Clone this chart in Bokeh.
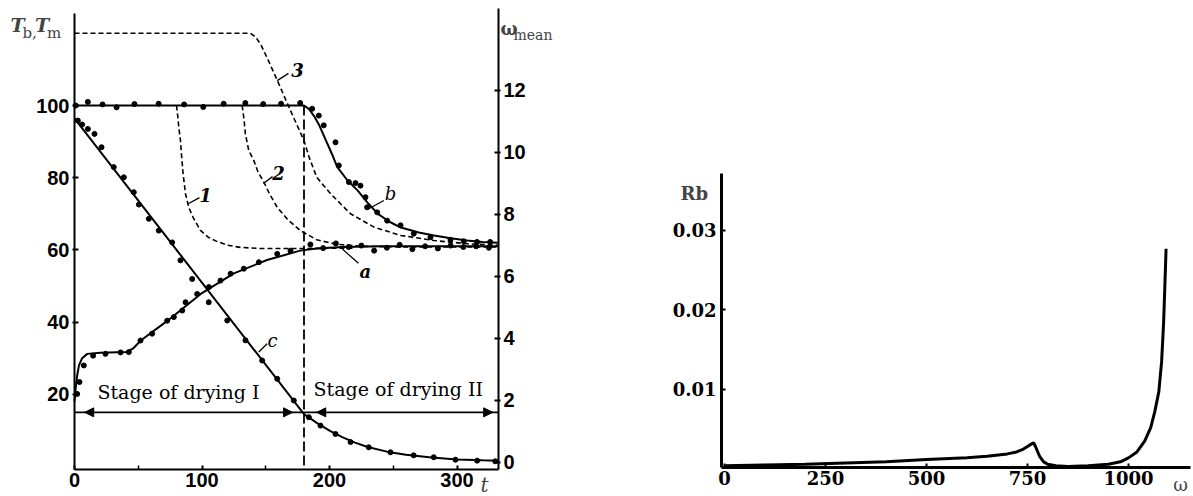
from bokeh.plotting import figure
from bokeh.layouts import row
from bokeh.models import Range1d, LinearAxis, FixedTicker, Label, Arrow, NormalHead, PrintfTickFormatter
from bokeh.embed import file_html
from bokeh.resources import INLINE

# ---------------- data: left panel ----------------
# curve b (T_b, solid)
b_t = [0, 180, 184, 188, 192, 197, 202, 206, 214, 222, 230, 238, 247, 256, 270, 282, 295, 308, 320, 332]
b_T = [100, 100, 99, 97, 94.5, 90.5, 86.5, 83, 79.3, 76.5, 73, 70, 67.8, 66.2, 64.8, 64, 63.2, 62.6, 62.2, 62]
b_dot_t = [1, 10.5, 22, 33, 47, 66, 86, 101, 117, 134, 148, 162, 177,
           186.4, 191.6, 195.5, 204.7, 207.3, 215.2, 220.4, 224.3, 228.2, 229.5, 237.4, 245.2,
           255.7, 266.1, 279.2, 294.9, 305.3, 315.7, 326]
b_dot_T = [100, 101, 100.3, 99.5, 100.4, 100.5, 100.3, 99.6, 100.5, 100.7, 100.4, 100.5, 100.7,
           99.1, 97.2, 94.5, 89.8, 83.4, 78.8, 78.5, 77.8, 74.6, 71.8, 70.4, 68.1,
           66.8, 64.5, 63.5, 62.8, 62.4, 62.2, 62.2]

# curve a (T_m, solid)
a_t = [0, 1, 2, 3.5, 6, 10, 20, 41, 46, 52, 73, 99, 125, 151, 177, 190, 210, 240, 280, 332]
a_T = [18, 22, 25, 28, 30, 31.2, 31.5, 31.7, 32.7, 34.9, 40.4, 47.8, 53.5, 57.2, 59.8, 60.4, 60.8, 61, 61, 61]
a_dot_t = [2.1, 3.9, 7.3, 14.6, 24.3, 36.1, 42.6, 51.8, 60.9, 72.7, 77.9, 84.5, 87.1, 96.2, 105.4,
           114.5, 122.4, 132.8, 144.6, 159, 169.4,
           185, 195, 205, 215, 225, 235, 245, 255, 265, 275, 285, 295, 305, 315, 325]
a_dot_T = [20.1, 23.4, 28, 30.7, 31.2, 31.6, 31.7, 34.9, 36.8, 40.4, 41.4, 43.2, 45.5, 47.8, 49.7,
           51.5, 53.4, 54.8, 56.6, 58.9, 59.8,
           61.5, 60.5, 61.8, 60.8, 61.2, 59.8, 60.6, 61.4, 60.2, 61, 60.4, 61.2, 60.8, 61, 60.6]

# curve c (omega_mean, solid, right axis)
c_t = [0, 180, 190, 200, 210, 220, 230, 245, 260, 280, 300, 320, 332]
c_w = [11.1, 1.56, 1.28, 1.03, 0.82, 0.64, 0.5, 0.35, 0.25, 0.16, 0.1, 0.07, 0.06]
c_dot_t = [2.6, 6, 10.5, 15.7, 21.2, 30.8, 38.7, 46.5, 50.5, 58.3, 66.1, 76.6, 83.1, 92.3, 105.3,
           119.8, 134.1, 147.2, 159, 172, 183.8, 192.9, 204.7, 216.5, 230.8, 247.8, 266, 281.8,
           298.8, 315.8, 330]
c_dot_w = [11.03, 10.9, 10.76, 10.6, 10.17, 9.53, 9.2, 8.72, 8.32, 7.86, 7.48, 7.1, 6.52, 5.92, 5.17,
           4.58, 3.94, 3.29, 2.7, 2.0, 1.46, 1.19, 0.92, 0.66, 0.49, 0.33, 0.23, 0.17,
           0.09, 0.06, 0.04]

# dashed curves 1, 2, 3
d1_t = [80, 81, 81.8, 83.1, 84, 85.2, 87.1, 89.6, 93, 98.8, 105, 112, 120, 130, 145, 180, 220]
d1_T = [100, 97, 94, 90.3, 86, 81, 75.5, 71.8, 69, 65.4, 63.5, 62.3, 61.3, 60.7, 60.4, 60.4, 60.5]
d2_t = [131.5, 133, 134, 136.7, 140.6, 144, 148.5, 153, 159, 167, 177, 190, 205, 225, 260, 300, 332]
d2_T = [100, 96, 92.2, 87.5, 84.8, 81.5, 78.8, 75.5, 71.8, 68.5, 65.4, 62.8, 61.6, 61, 60.8, 60.8, 60.8]
d3_t = [0, 138, 142, 146, 152, 159, 169.4, 180, 184, 190, 201, 216.5, 235, 256, 282, 308, 332]
d3_T = [120, 120, 119, 117, 112.5, 107, 98.6, 90.3, 85.7, 80.1, 75.5, 70, 66.3, 64, 62.6, 61.7, 61.3]

stage_t = [0, 180, 332.5]
stage_T = 15
x_ticks_left = [0, 100, 200, 300]
y_ticks_left = [20, 40, 60, 80, 100]
y_ticks_right = [0, 2, 4, 6, 8, 10, 12]

# ---------------- data: right panel ----------------
rb_w = [0, 100, 200, 300, 400, 500, 600, 650, 700, 720, 740, 755, 765, 770, 780, 790, 800, 820,
        850, 900, 950, 980, 1000, 1020, 1040, 1055, 1065, 1075, 1082, 1087, 1090, 1093]
rb_v = [0.0004, 0.0005, 0.0006, 0.00075, 0.0009, 0.0012, 0.0014, 0.0016, 0.0019, 0.0021, 0.0025, 0.003,
        0.0033, 0.0028, 0.0016, 0.0009, 0.0006, 0.0004, 0.0003, 0.0004, 0.0006, 0.0009, 0.0014, 0.0021,
        0.0035, 0.0052, 0.0072, 0.0097, 0.0135, 0.0185, 0.023, 0.0277]
x_ticks_right = [0, 250, 500, 750, 1000]
y_ticks_rb = [0.01, 0.02, 0.03]

SERIF = "DejaVu Serif"
SANS = "Liberation Sans"


def bare_figure(width, height, xr, yr):
    f = figure(width=width, height=height, x_range=Range1d(*xr), y_range=Range1d(*yr),
               output_backend="svg", toolbar_location=None, title=None,
               min_border_left=0, min_border_right=0, min_border_top=0, min_border_bottom=0)
    f.grid.visible = False
    f.outline_line_color = None
    f.background_fill_color = "white"
    f.border_fill_color = "white"
    return f


def style_axis(ax, font, size, lw):
    ax.axis_line_width = lw
    ax.axis_line_color = "black"
    ax.major_tick_line_width = 2
    ax.major_tick_in = 4
    ax.major_tick_out = 2
    ax.minor_tick_in = 4
    ax.minor_tick_out = 0
    ax.minor_tick_line_width = 1.5
    ax.major_label_text_font = font
    ax.major_label_text_font_style = "bold"
    ax.major_label_text_font_size = size
    ax.major_label_text_color = "black"
    ax.major_label_standoff = 3


# ---------------- left figure ----------------
# frame covers whole canvas; axes are placed with fixed_location
p = bare_figure(568, 496, (-58.04, 387.45), (-8.31, 129.09))
p.extra_y_ranges = {"w": Range1d(-1.097, 14.903)}
T_axis = -0.83      # level of the t axis line
t_right = 332.5     # t of the right axis line

p.xaxis.visible = False
p.yaxis.visible = False
ax_b = LinearAxis(fixed_location=T_axis, bounds=(0, t_right),
                  ticker=FixedTicker(ticks=x_ticks_left, minor_ticks=[50, 150, 250]))
ax_l = LinearAxis(fixed_location=0, bounds=(T_axis, 125.5),
                  ticker=FixedTicker(ticks=y_ticks_left, minor_ticks=[]))
ax_r = LinearAxis(y_range_name="w", fixed_location=t_right, bounds=(-0.23, 14.65),
                  ticker=FixedTicker(ticks=y_ticks_right, minor_ticks=[]))
p.add_layout(ax_b, "below")
p.add_layout(ax_l, "left")
p.add_layout(ax_r, "right")
for ax in [ax_b, ax_l, ax_r]:
    style_axis(ax, SANS, "20px", 2)
ax_b.major_tick_out = 0
ax_b.major_label_standoff = 4

# dashed curves
dash_kw = dict(line_color="black", line_width=1.6, line_dash="5 3")
p.line(d1_t, d1_T, **dash_kw)
p.line(d2_t, d2_T, **dash_kw)
p.line(d3_t, d3_T, **dash_kw)

# vertical dashed stage boundary
p.segment(x0=[stage_t[1]], y0=[100], x1=[stage_t[1]], y1=[T_axis], line_color="black",
          line_width=1.8, line_dash="10 4")

# solid curves
p.line(b_t, b_T, line_color="black", line_width=2)
p.line(a_t, a_T, line_color="black", line_width=2)
p.line(c_t, c_w, line_color="black", line_width=2, y_range_name="w")
p.scatter(b_dot_t, b_dot_T, size=5, color="black")
p.scatter(a_dot_t, a_dot_T, size=5, color="black")
p.scatter(c_dot_t, c_dot_w, size=5, color="black", y_range_name="w")

# stage arrows line
p.line([stage_t[0], stage_t[2]], [stage_T, stage_T], line_color="black", line_width=1.6)
for xs, xe in [(14, 8), (165, 171), (196, 190), (322, 328)]:
    p.add_layout(Arrow(end=NormalHead(size=9, fill_color="black", line_color="black", line_width=1),
                       x_start=xs, y_start=stage_T, x_end=xe, y_end=stage_T, line_alpha=0))

p.add_layout(Label(x=18, y=17.7, text="Stage of drying I", text_font=SERIF, text_font_size="19px",
                   text_color="black"))
p.add_layout(Label(x=187.5, y=18.3, text="Stage of drying II", text_font=SERIF, text_font_size="19px",
                   text_color="black"))

# curve labels with leaders
curve_labels = [("1", 102.7, 75.1, "bold italic", (89.2, 72.8, 98, 74.5)),
                ("2", 160, 81.2, "bold italic", (148.2, 78.4, 155.3, 80.3)),
                ("3", 174.9, 109.7, "bold italic", (159, 106.9, 167.8, 108.9)),
                ("a", 228.2, 54.0, "bold italic", (208.6, 60.7, 222.7, 56.3)),
                ("b", 247.8, 75.6, "italic", (230.8, 71.4, 242.6, 73.7)),
                ("c", 155.3, 34.9, "italic", (144.5, 31.7, 151.1, 34))]
for txt, lx, ly, style, (x0, y0, x1, y1) in curve_labels:
    p.add_layout(Label(x=lx, y=ly, text=txt, text_font=SERIF, text_font_style=style,
                       text_font_size="18px", text_align="center", text_baseline="middle",
                       text_color="black"))
    p.segment(x0=[x0], y0=[y0], x1=[x1], y1=[y1], line_color="black", line_width=1.3)

# axis titles
p.add_layout(Label(x=-50.2, y=122.2, text="T", text_font=SERIF, text_font_style="bold italic",
                   text_font_size="19px", text_baseline="alphabetic"))
p.add_layout(Label(x=-40.8, y=120.0, text="b,", text_font=SERIF, text_font_size="15px",
                   text_baseline="alphabetic"))
p.add_layout(Label(x=-31.0, y=122.2, text="T", text_font=SERIF, text_font_style="bold italic",
                   text_font_size="19px", text_baseline="alphabetic"))
p.add_layout(Label(x=-21.5, y=120.0, text="m", text_font=SERIF, text_font_size="15px",
                   text_baseline="alphabetic"))
p.add_layout(Label(x=334.1, y=121.3, text="ω", text_font=SERIF, text_font_style="bold",
                   text_font_size="18px", text_baseline="alphabetic"))
p.add_layout(Label(x=344.3, y=119.6, text="mean", text_font=SERIF, text_font_size="14px",
                   text_baseline="alphabetic"))
p.add_layout(Label(x=318.4, y=-5.0, text="t", text_font=SERIF, text_font_style="italic",
                   text_font_size="20px", text_baseline="alphabetic"))

# ---------------- right figure ----------------
q = bare_figure(625, 496, (-386.1, 1160.9), (-0.00346, 0.05893))
Rb_axis = 0.00019
w_left = -7.4
q.xaxis.visible = False
q.yaxis.visible = False
qx = LinearAxis(fixed_location=Rb_axis, bounds=(w_left, 1153),
                ticker=FixedTicker(ticks=x_ticks_right, minor_ticks=[]))
qy = LinearAxis(fixed_location=w_left, bounds=(Rb_axis, 0.03717),
                ticker=FixedTicker(ticks=y_ticks_rb, minor_ticks=[]),
                formatter=PrintfTickFormatter(format="%.2f"))
q.add_layout(qx, "below")
q.add_layout(qy, "left")
for ax in [qx, qy]:
    style_axis(ax, SERIF, "18px", 3)
    ax.major_tick_out = 0
qx.major_label_standoff = 4
qy.major_label_standoff = 5

q.line(rb_w, rb_v, line_color="black", line_width=3)
q.add_layout(Label(x=-109, y=0.03465, text="Rb", text_font=SERIF, text_font_style="bold",
                   text_font_size="18px", text_baseline="alphabetic"))
q.add_layout(Label(x=1111, y=-0.0019, text="ω", text_font=SERIF, text_font_size="18px",
                   text_baseline="alphabetic"))

layout = row(p, q)
open("out.html", "w").write(file_html(layout, INLINE))
